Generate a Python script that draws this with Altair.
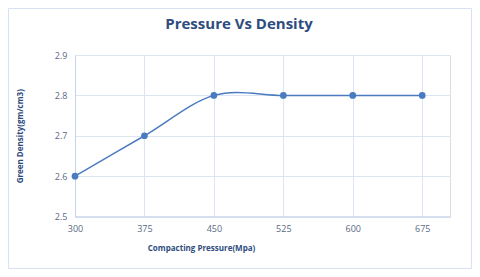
import altair as alt
import pandas as pd

pressure = [300, 375, 450, 525, 600, 675]
density = [2.6, 2.7, 2.8, 2.8, 2.8, 2.8]
x_ticks = [300, 375, 450, 525, 600, 675]
y_ticks = [2.5, 2.6, 2.7, 2.8, 2.9]
chart_title = "Pressure Vs Density"

df = pd.DataFrame({"pressure": pressure, "density": density})

LINE = "#4A7BC0"
DARK = "#2E4C7E"
LABEL = "#5B6A84"
GRID = "#DCE6F3"
DOMAIN = "#C3D3EA"

x = alt.X(
    "pressure:Q",
    scale=alt.Scale(domain=[300, 705], nice=False, zero=False),
    axis=alt.Axis(
        values=x_ticks, title="Compacting Pressure(Mpa)", grid=True,
        gridColor=GRID, domainColor=DOMAIN, ticks=False, labelPadding=8,
        labelFlush=False,
        labelColor=LABEL, labelFont="Open Sans", labelFontSize=9,
        titleFont="Open Sans", titleFontSize=8, titleFontWeight="bold",
        titleColor=DARK, titleX=126, titleY=28, titleAlign="center",
    ),
)
y = alt.Y(
    "density:Q",
    scale=alt.Scale(domain=[2.5, 2.9], nice=False, zero=False),
    axis=alt.Axis(
        values=y_ticks, format=".1f", title="Green Density(gm/cm3)", grid=True,
        gridColor=GRID, domainColor=DOMAIN, ticks=False, labelPadding=8,
        labelColor=LABEL, labelFont="Open Sans", labelFontSize=9,
        titleFont="Open Sans", titleFontSize=8, titleFontWeight="bold",
        titleColor=DARK, titleX=-51, titleY=80.75, titleAlign="center",
    ),
)

line = alt.Chart(df).mark_line(color=LINE, strokeWidth=1.5, interpolate="cardinal").encode(x=x, y=y)
pts = alt.Chart(df).mark_point(color=LINE, filled=True, opacity=1, size=45).encode(x=x, y=y)

border = alt.Chart(alt.Data(values=[{"a": 1}])).mark_rect(
    fill=None, stroke="#D6E2F1", strokeWidth=1
).encode(
    x=alt.value(-66.5), x2=alt.value(396.5), y=alt.value(-46.5), y2=alt.value(213.5)
)

title = alt.Chart(alt.Data(values=[{"t": chart_title}])).mark_text(
    font="Open Sans", fontSize=15, fontWeight="bold", color=DARK,
    align="center", baseline="middle",
).encode(text="t:N", x=alt.value(164), y=alt.value(-31))

chart = alt.layer(border, line, pts, title).properties(
    width=375,
    height=161.5,
    autosize=alt.AutoSizeParams(type="none"),
    padding={"left": 67, "top": 47, "right": 22, "bottom": 52},
).configure_view(stroke=None).configure(background="white")

chart.save("out.html", embed_options={"renderer": "svg", "actions": False})
